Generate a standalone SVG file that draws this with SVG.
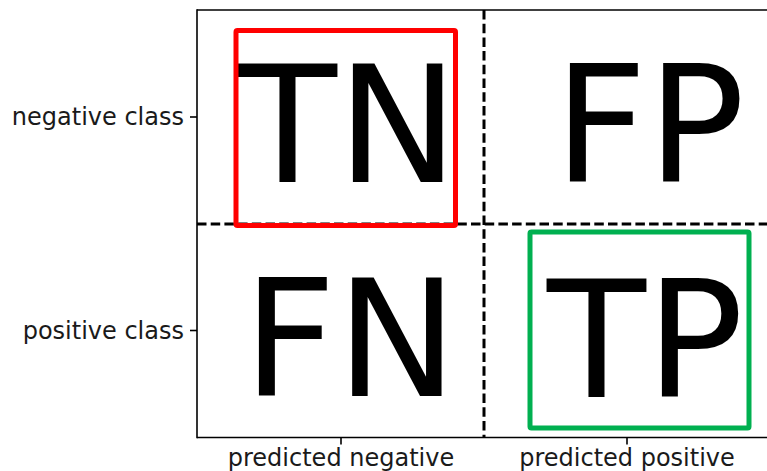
<svg xmlns="http://www.w3.org/2000/svg" width="767" height="471" viewBox="0 0 767 471">
  <style>
    .cell { font-family: "DejaVu Sans", "Liberation Sans", sans-serif; font-size: 162px; fill: #000; }
    .tick-label { font-family: "DejaVu Sans", "Liberation Sans", sans-serif; font-size: 24px; fill: #1a1a1a; }
    .spine { stroke: #000; stroke-width: 1.6; fill: none; }
    .tick { stroke: #000; stroke-width: 1.6; }
    .divider { stroke: #000; stroke-width: 3; stroke-dasharray: 9.5 4.2; fill: none; }
    .hl { fill: none; stroke-width: 5; stroke-linejoin: round; }
  </style>
  <rect width="767" height="471" fill="#fff"/>

  <!-- axes frame and ticks -->
  <g id="axes">
    <line class="spine" x1="197" y1="10" x2="767" y2="10"/>
    <line class="spine" x1="197" y1="9.2" x2="197" y2="438.3"/>
    <line class="spine" x1="197" y1="437.5" x2="767" y2="437.5"/>
    <line class="tick" x1="190" y1="117" x2="197" y2="117"/>
    <line class="tick" x1="190" y1="330.5" x2="197" y2="330.5"/>
    <line class="tick" x1="341" y1="437.5" x2="341" y2="444.5"/>
    <line class="tick" x1="627" y1="437.5" x2="627" y2="444.5"/>
    <text class="tick-label" x="184" y="125" text-anchor="end">negative class</text>
    <text class="tick-label" x="184" y="339" text-anchor="end">positive class</text>
    <text class="tick-label" x="341" y="466" text-anchor="middle">predicted negative</text>
    <text class="tick-label" x="627" y="466" text-anchor="middle">predicted positive</text>
  </g>

  <!-- quadrant dividers -->
  <g id="connectors">
    <line class="divider" x1="197" y1="224" x2="767" y2="224"/>
    <line class="divider" x1="484" y1="10" x2="484" y2="437"/>
  </g>

  <g id="cell-tn">
    <text class="cell" x="238" y="182">TN</text>
    <rect class="hl" x="236" y="30.5" width="219.5" height="195" rx="1.5" stroke="#ff0000"/>
  </g>
  <g id="cell-fp">
    <text class="cell" x="554" y="182">FP</text>
  </g>
  <g id="cell-fn">
    <text class="cell" x="243" y="396">FN</text>
  </g>
  <g id="cell-tp">
    <text class="cell" x="547" y="397">TP</text>
    <rect class="hl" x="530" y="232" width="219" height="196" rx="1.5" stroke="#00b050"/>
  </g>
</svg>
